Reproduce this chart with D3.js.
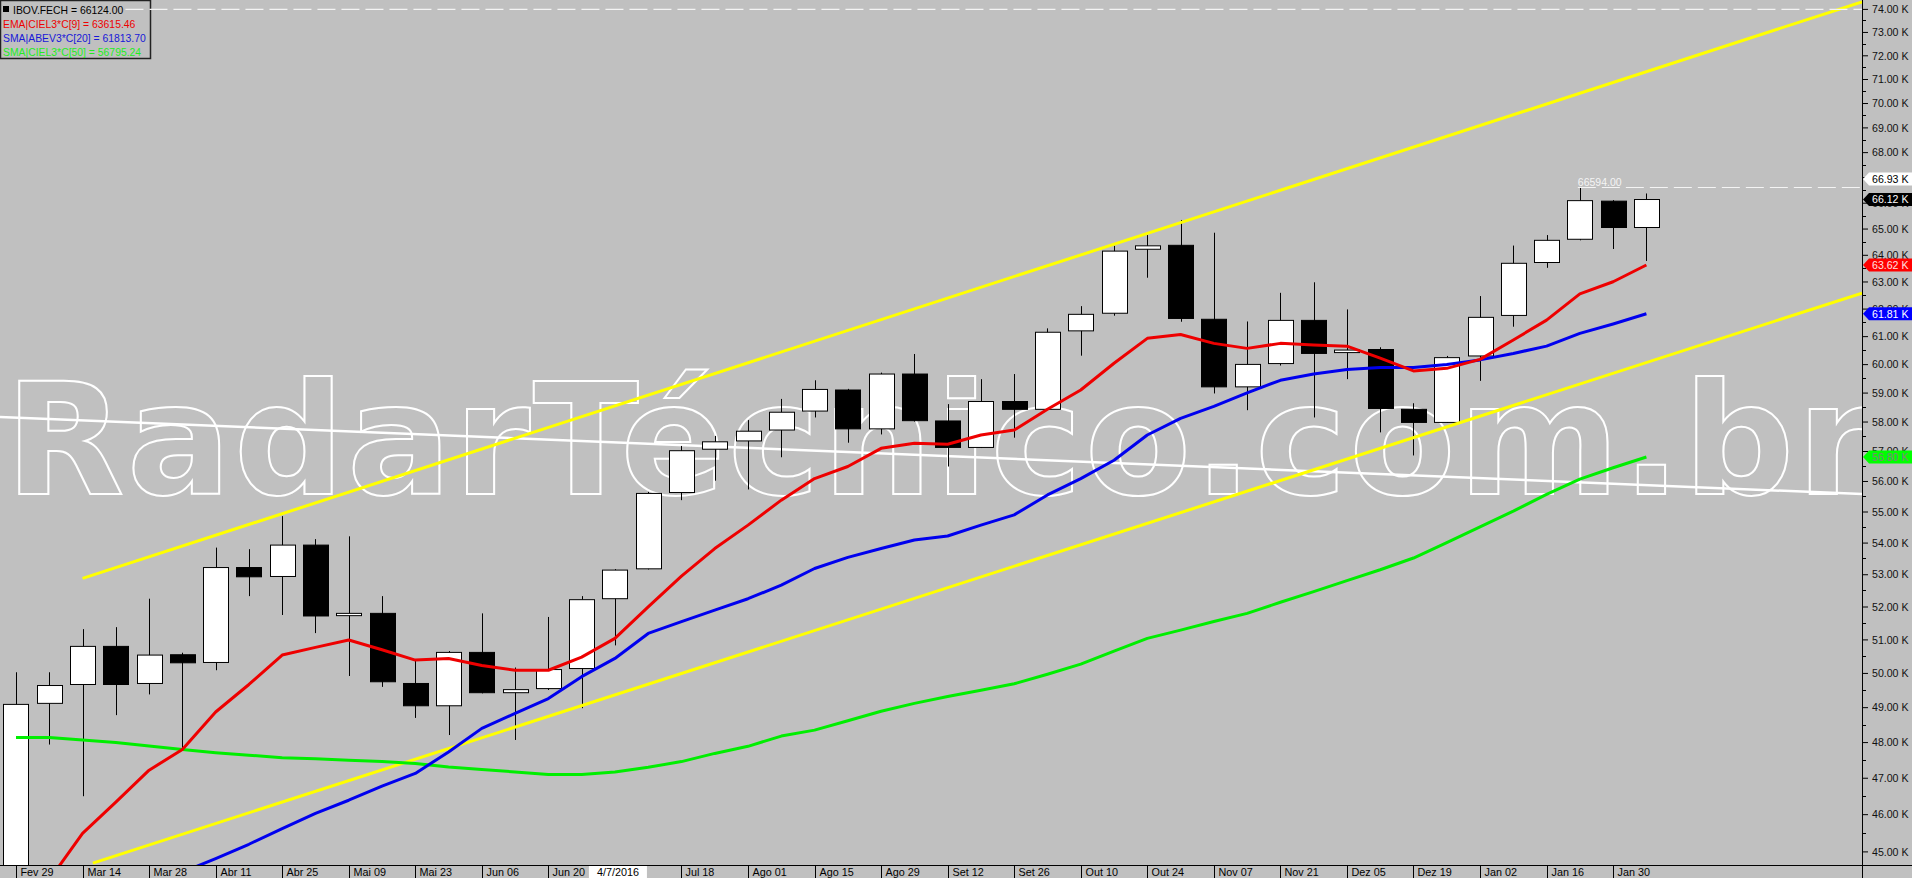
<!DOCTYPE html>
<html><head><meta charset="utf-8">
<script src="https://cdn.jsdelivr.net/npm/d3@7"></script>
<style>body{margin:0;background:#c0c0c0;} svg{display:block;}</style>
</head><body><svg id="c" width="1912" height="878"></svg>
<script>
// ---------- DATA (values in thousands of points) ----------
const dates = ["2016-02-29","2016-03-07","2016-03-14","2016-03-21","2016-03-28","2016-04-04","2016-04-11","2016-04-18","2016-04-25","2016-05-02",
"2016-05-09","2016-05-16","2016-05-23","2016-05-30","2016-06-06","2016-06-13","2016-06-20","2016-06-27","2016-07-04","2016-07-11",
"2016-07-18","2016-07-25","2016-08-01","2016-08-08","2016-08-15","2016-08-22","2016-08-29","2016-09-05","2016-09-12","2016-09-19",
"2016-09-26","2016-10-03","2016-10-10","2016-10-17","2016-10-24","2016-10-31","2016-11-07","2016-11-14","2016-11-21","2016-11-28",
"2016-12-05","2016-12-12","2016-12-19","2016-12-26","2017-01-02","2017-01-09","2017-01-16","2017-01-23","2017-01-30","2017-02-06"];
const openV  = [42.10,49.11,49.66,50.79,49.69,50.54,50.31,53.21,52.93,53.92,51.72,51.79,49.69,49.04,50.61,49.42,49.54,50.13,52.24,53.17,
55.62,57.06,57.34,57.71,58.36,59.09,57.75,59.65,58.02,57.12,58.69,58.42,61.19,61.83,64.21,64.36,61.61,59.20,60.02,61.57,
60.41,60.52,58.42,57.97,60.29,61.75,63.71,64.59,66.06,65.04];
const highV  = [50.02,50.02,51.31,51.37,52.24,50.60,53.84,53.79,54.85,54.11,54.20,52.32,50.38,50.65,51.79,50.16,51.68,52.32,53.16,55.64,
57.17,57.51,58.05,58.78,59.43,59.13,59.70,60.36,58.60,59.47,59.65,61.28,62.09,64.34,64.75,65.33,64.84,61.53,62.58,62.97,
61.97,60.60,58.63,60.29,62.46,64.35,64.75,66.594,66.10,66.36];
const lowV   = [42.00,47.93,46.49,48.77,49.37,47.82,50.08,52.32,51.74,51.19,49.91,49.59,48.69,48.20,49.40,48.06,49.50,48.97,50.82,53.15,
55.37,56.01,55.72,56.79,58.14,57.28,57.56,58.00,56.48,57.10,57.45,58.40,60.30,61.74,63.14,61.52,58.97,58.39,59.95,58.14,
59.47,57.63,56.85,57.95,59.41,61.34,63.51,64.55,64.22,63.77];
const closeV = [49.08,49.63,50.79,49.66,50.53,50.30,53.21,52.92,53.92,51.71,51.79,49.74,49.04,50.61,49.42,49.51,50.10,52.21,53.13,55.59,
57.01,57.31,57.67,58.32,59.11,57.75,59.65,58.03,57.12,58.69,58.42,61.14,61.79,64.14,64.34,61.64,59.20,59.99,61.57,60.38,
60.50,58.45,57.97,60.23,61.68,63.68,64.55,66.08,65.04,66.124];
const ema9   = [null,44.25,45.48,46.33,47.21,47.79,48.86,49.66,50.53,50.76,50.98,50.69,50.38,50.43,50.22,50.08,50.08,50.47,51.03,51.99,
52.94,53.81,54.56,55.37,56.08,56.48,57.09,57.26,57.23,57.54,57.71,58.42,59.09,60.03,60.92,61.06,60.74,60.56,60.74,60.68,
60.64,60.21,59.76,59.85,60.17,60.86,61.58,62.54,62.99,63.615];
const sma20  = [null,null,null,null,null,44.45,44.81,45.19,45.61,46.02,46.38,46.77,47.12,47.72,48.39,48.82,49.25,49.89,50.43,51.18,
51.54,51.89,52.24,52.66,53.18,53.53,53.81,54.08,54.21,54.56,54.89,55.54,56.08,56.69,57.54,58.11,58.52,58.99,59.43,59.65,
59.81,59.88,59.88,59.99,60.15,60.38,60.64,61.10,61.44,61.81];
const sma50  = [48.13,48.13,48.06,47.99,47.89,47.79,47.70,47.63,47.56,47.53,47.49,47.45,47.40,47.30,47.23,47.16,47.09,47.09,47.16,47.29,
47.45,47.68,47.88,48.17,48.34,48.61,48.88,49.11,49.31,49.49,49.68,49.96,50.26,50.65,51.03,51.28,51.54,51.79,52.13,52.46,
52.80,53.14,53.51,54.00,54.50,55.01,55.56,56.06,56.44,56.80];
// trend lines: [index, value] endpoints
const upperChannel = [[2, 52.87], [55.48, 74.31]];
const lowerChannel = [[2.31, 44.69], [55.48, 62.57]];
const whiteTrend   = [[-0.48, 58.16], [55.48, 55.57]];
const topLineValue = 73.98;
const highMark = {index: 47, value: 66.594, label: "66594.00"};
const xTickLabels = ["Fev 29","Mar 14","Mar 28","Abr 11","Abr 25","Mai 09","Mai 23","Jun 06","Jun 20","Jul 04","Jul 18","Ago 01","Ago 15",
"Ago 29","Set 12","Set 26","Out 10","Out 24","Nov 07","Nov 21","Dez 05","Dez 19","Jan 02","Jan 16","Jan 30"];
const cursorDate = "2016-07-04", cursorLabel = "4/7/2016";
const yTicks = d3.range(45, 75, 1);
const yMinorTicks = d3.range(45.5, 74.5, 1);
const legendItems = [
  {text: "IBOV.FECH = 66124.00", color: "#000"},
  {text: "EMA|CIEL3*C[9] = 63615.46", color: "#ee0000"},
  {text: "SMA|ABEV3*C[20] = 61813.70", color: "#1818d8"},
  {text: "SMA|CIEL3*C[50] = 56795.24", color: "#22ee22"}
];
const axisTags = [
  {value: 66.93, bg: "#ffffff", fg: "#000"},
  {value: 66.124, bg: "#000000", fg: "#fff"},
  {value: 63.615, bg: "#ff0000", fg: "#ffe0e0"},
  {value: 61.81, bg: "#0000ff", fg: "#fff"},
  {value: 56.80, bg: "#00ff00", fg: "#808080"}
];

// ---------- LAYOUT ----------
const W = 1912, H = 878, PW = 1862, PH = 865;
const svg = d3.select("#c");
const x = d3.scalePoint().domain(dates).range([16, 1646.4]);
const xi = d3.scaleLinear().domain([0, dates.length - 1]).range(x.range());
const y = d3.scaleLog().domain([44.64, 74.39]).range([PH, 0]);
const bodyW = 25;

svg.append("rect").attr("width", W).attr("height", H).attr("fill", "#c0c0c0");
svg.append("defs").append("clipPath").attr("id", "plot").append("rect").attr("width", PW).attr("height", PH);
const g = svg.append("g").attr("clip-path", "url(#plot)");

// watermark
g.append("text").attr("x", 5).attr("y", 494)
  .attr("font-family", "DejaVu Sans").attr("font-weight", "bold").attr("font-size", 155)
  .attr("letter-spacing", 2.4)
  .attr("fill", "none").attr("stroke", "#fff").attr("stroke-width", 2)
  .text("RadarTécnico.com.br");

// white trend line
const tl = d3.line().x(d => xi(d[0])).y(d => y(d[1]));
g.append("path").attr("d", tl(whiteTrend)).attr("stroke", "#fff").attr("stroke-width", 2.5).attr("fill", "none");

// candles
const idx = d3.range(dates.length);
const cg = g.append("g");
cg.selectAll("line.w").data(idx).join("line")
  .attr("x1", i => Math.round(x(dates[i])) + 0.5).attr("x2", i => Math.round(x(dates[i])) + 0.5)
  .attr("y1", i => y(highV[i])).attr("y2", i => y(lowV[i]))
  .attr("stroke", "#000").attr("stroke-width", 1);
cg.selectAll("rect.b").data(idx).join("rect")
  .attr("x", i => Math.round(x(dates[i]) - bodyW / 2) + 0.5)
  .attr("y", i => y(Math.max(openV[i], closeV[i])))
  .attr("width", bodyW)
  .attr("height", i => Math.max(2, y(Math.min(openV[i], closeV[i])) - y(Math.max(openV[i], closeV[i]))))
  .attr("fill", i => closeV[i] >= openV[i] ? "#fff" : "#000")
  .attr("stroke", "#000").attr("stroke-width", 1);

// yellow channel
[upperChannel, lowerChannel].forEach(c => {
  g.append("path").attr("d", tl(c)).attr("stroke", "#ffff00").attr("stroke-width", 3).attr("fill", "none");
});

// moving averages
const ml = d3.line().defined(d => d != null).x((d, i) => x(dates[i])).y(d => y(d));
[[sma50, "#00ee00"], [sma20, "#0000ee"], [ema9, "#ee0000"]].forEach(([s, c]) => {
  g.append("path").attr("d", ml(s)).attr("stroke", c).attr("stroke-width", 3)
    .attr("fill", "none").attr("stroke-linejoin", "round");
});

// high marker
const hx = x(dates[highMark.index]), hy = y(highMark.value);
g.append("line").attr("x1", hx - 2).attr("x2", PW).attr("y1", hy).attr("y2", hy)
  .attr("stroke", "#f4f4f4").attr("stroke-width", 1).attr("stroke-dasharray", "18,6");
g.append("text").attr("x", hx - 2).attr("y", hy - 2).attr("font-family", "Liberation Sans, Arial")
  .attr("font-size", 10.5).attr("fill", "#f4f4f4").text(highMark.label);

// legend
const lg = svg.append("g");
lg.append("rect").attr("x", 0.5).attr("y", 0.5).attr("width", 150).attr("height", 58)
  .attr("fill", "none").attr("stroke", "#222").attr("stroke-width", 1.5);
lg.append("rect").attr("x", 3).attr("y", 6).attr("width", 6).attr("height", 6).attr("fill", "#000");
const lt = lg.selectAll("text").data(legendItems).join("text")
  .attr("x", (d, i) => i === 0 ? 13 : 3).attr("y", (d, i) => 14 + i * 13.9)
  .attr("font-family", "Liberation Sans, Arial").attr("font-size", 10.4)
  .attr("fill", d => d.color).text(d => d.text);
const firstEnd = lt.nodes()[0].getBBox();
svg.append("line").attr("x1", firstEnd.x + firstEnd.width + 2).attr("x2", PW)
  .attr("y1", y(topLineValue)).attr("y2", y(topLineValue))
  .attr("stroke", "#f4f4f4").attr("stroke-width", 1.2).attr("stroke-dasharray", "18,6");

// right axis
const ax = svg.append("g").attr("transform", `translate(${PW},0)`);
ax.append("line").attr("x1", 0.5).attr("x2", 0.5).attr("y1", 0).attr("y2", H).attr("stroke", "#000");
ax.selectAll("line.mi").data(yMinorTicks).join("line")
  .attr("x1", 0).attr("x2", 4).attr("y1", d => Math.round(y(d)) + 0.5).attr("y2", d => Math.round(y(d)) + 0.5).attr("stroke", "#000");
const yAxis = d3.axisRight(y).tickValues(yTicks).tickSize(6).tickFormat(d => d.toFixed(2) + " K");
const ya = ax.append("g").call(yAxis);
ya.select(".domain").remove();
ya.selectAll("line").attr("stroke", "#000");
ya.selectAll("text").attr("font-family", "Liberation Sans, Arial").attr("font-size", 10.6)
  .attr("fill", "#111").attr("x", 10).attr("dy", "0.35em");

// axis tags
axisTags.forEach(t => {
  const cy = y(t.value);
  ax.append("path").attr("d", `M1,${cy} L7,${cy - 6.5} L50,${cy - 6.5} L50,${cy + 6.5} L7,${cy + 6.5} Z`)
    .attr("fill", t.bg);
  ax.append("text").attr("x", 10).attr("y", cy).attr("dy", "0.36em")
    .attr("font-family", "Liberation Sans, Arial").attr("font-size", 10.6).attr("fill", t.fg)
    .text(t.value.toFixed(2) + " K");
});

// bottom axis
const bx = svg.append("g");
bx.append("line").attr("x1", 0).attr("x2", W).attr("y1", PH + 0.5).attr("y2", PH + 0.5).attr("stroke", "#000");
const tickDates = dates.filter((d, i) => i % 2 === 0);
tickDates.forEach((d, k) => {
  if (d === cursorDate) return;
  const px = Math.round(x(d)) + 0.5;
  bx.append("line").attr("x1", px).attr("x2", px).attr("y1", PH).attr("y2", H).attr("stroke", "#000");
  bx.append("text").attr("x", px + 4).attr("y", H - 2).attr("font-family", "Liberation Sans, Arial")
    .attr("font-size", 10.8).attr("fill", "#000").text(xTickLabels[k]);
});
const cxp = x(cursorDate);
bx.append("rect").attr("x", cxp - 26).attr("y", PH + 1).attr("width", 58).attr("height", H - PH - 1).attr("fill", "#fff");
bx.append("text").attr("x", cxp + 3).attr("y", H - 2).attr("text-anchor", "middle")
  .attr("font-family", "Liberation Sans, Arial").attr("font-size", 10.8).attr("fill", "#000").text(cursorLabel);
</script>
</body></html>
